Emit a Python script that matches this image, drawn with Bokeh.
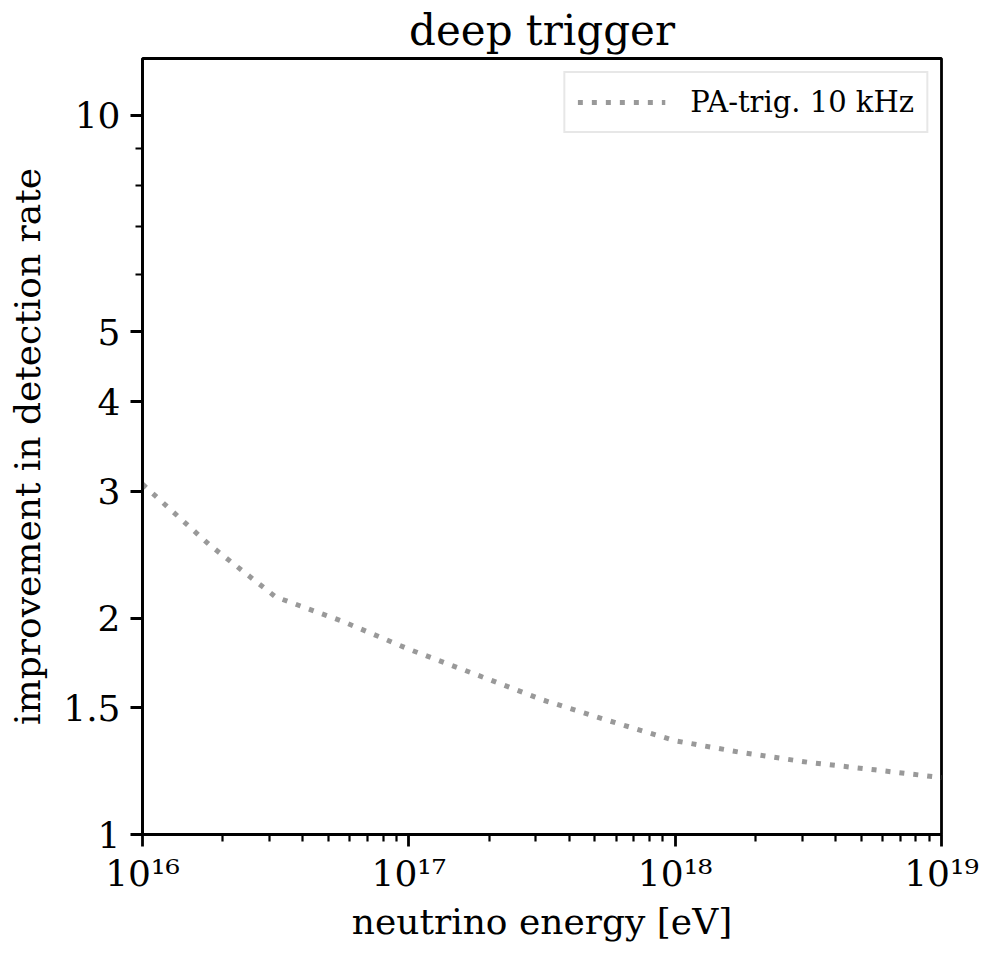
from bokeh.plotting import figure
from bokeh.models import FixedTicker, Range1d, Legend, LegendItem
from bokeh.embed import file_html
from bokeh.resources import INLINE

# ---- data ----
energy_eV = [1.0e16, 1.78e16, 3.16e16, 5.62e16, 1.0e17, 1.78e17, 3.16e17,
             5.62e17, 1.0e18, 1.78e18, 3.16e18, 5.62e18, 1.0e19]
improvement = [3.07, 2.53, 2.14, 1.98, 1.81, 1.67, 1.54,
               1.44, 1.35, 1.30, 1.26, 1.23, 1.20]
series_label = "PA-trig. 10 kHz"

x_tick_values = [1e16, 1e17, 1e18, 1e19]
x_tick_labels = ["10\u00b9\u2076", "10\u00b9\u2077", "10\u00b9\u2078", "10\u00b9\u2079"]
x_minor_ticks = [m * d for d in (1e16, 1e17, 1e18) for m in range(2, 10)]
y_tick_values = [1, 1.5, 2, 3, 4, 5, 10]
y_tick_labels = ["1", "1.5", "2", "3", "4", "5", "10"]
y_minor_ticks = [6, 7, 8, 9]

FONT = "DejaVu Serif"

p = figure(width=987, height=944,
           x_axis_type="log", y_axis_type="log",
           x_range=Range1d(1e16, 1e19), y_range=Range1d(1, 12),
           output_backend="svg", toolbar_location=None,
           title="deep trigger",
           min_border_left=142, min_border_right=46,
           min_border_top=54, min_border_bottom=106,
           x_axis_label="neutrino energy [eV]",
           y_axis_label="improvement in detection rate")

r = p.line(energy_eV, improvement, line_color="#999999", line_width=5,
           line_dash="5 9")

p.xgrid.visible = False
p.ygrid.visible = False
p.outline_line_color = "black"
p.outline_line_width = 2.8
p.outline_line_alpha = 1.0

p.title.text_font = FONT
p.title.text_font_size = "42px"
p.title.text_font_style = "normal"
p.title.text_color = "black"
p.title.align = "center"
p.title.standoff = 7

p.xaxis.ticker = FixedTicker(ticks=x_tick_values, minor_ticks=x_minor_ticks)
p.yaxis.ticker = FixedTicker(ticks=y_tick_values, minor_ticks=y_minor_ticks)
p.xaxis.major_label_overrides = dict(zip(x_tick_values, x_tick_labels))
p.yaxis.major_label_overrides = {float(v): t for v, t in zip(y_tick_values, y_tick_labels)}

for ax in (p.xaxis[0], p.yaxis[0]):
    ax.axis_line_width = 2.8
    ax.axis_line_color = "black"
    ax.major_tick_line_width = 2.8
    ax.minor_tick_line_width = 2.2
    ax.major_tick_in = 0
    ax.major_tick_out = 12
    ax.minor_tick_in = 0
    ax.minor_tick_out = 7
    ax.major_label_text_font = FONT
    ax.major_label_text_font_size = "36px"
    ax.major_label_text_color = "black"
    ax.axis_label_text_font = FONT
    ax.axis_label_text_font_size = "36px"
    ax.axis_label_text_font_style = "normal"
    ax.axis_label_text_color = "black"

p.xaxis.major_label_standoff = 6
p.yaxis.major_label_standoff = 10
p.xaxis.axis_label_standoff = 4
p.yaxis.axis_label_standoff = 12

legend = Legend(items=[LegendItem(label=series_label, renderers=[r])],
                location="top_right")
legend.margin = 13
legend.padding = 12
legend.spacing = 0
legend.glyph_width = 88
legend.glyph_height = 30
legend.label_standoff = 25
legend.label_text_font = FONT
legend.label_text_font_size = "29px"
legend.label_text_color = "black"
legend.border_line_color = "#d0d0d0"
legend.border_line_width = 2.5
legend.background_fill_color = "white"
legend.background_fill_alpha = 1.0
p.add_layout(legend)

open("out.html", "w").write(file_html(p, INLINE))
